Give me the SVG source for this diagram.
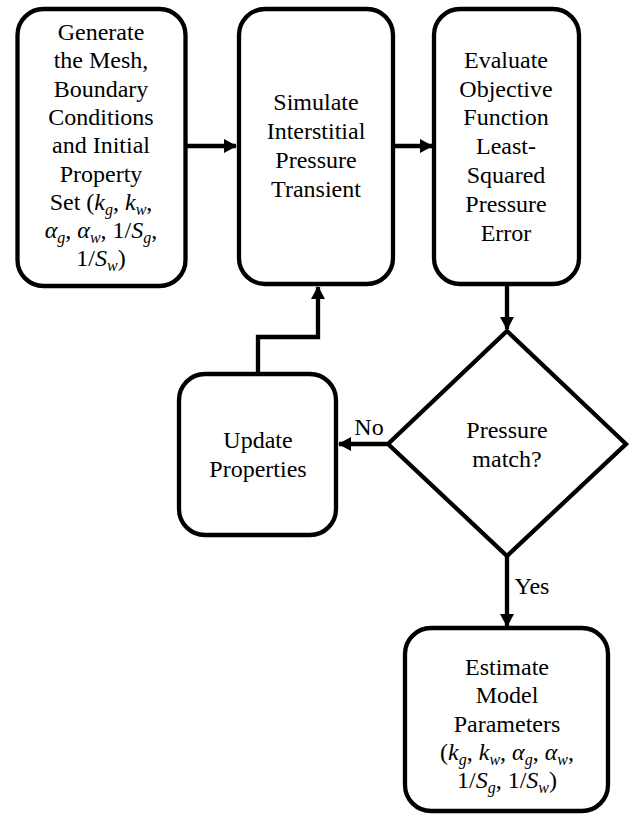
<svg xmlns="http://www.w3.org/2000/svg" width="629" height="816" viewBox="0 0 629 816">
<style>
.box{fill:#fff;stroke:#000;stroke-width:4.3}
.t{font-size:24px;fill:#000;text-anchor:middle}
.i{font-style:italic}
.s{font-style:italic;font-size:16px}
.c{fill:none;stroke:#000;stroke-width:4.3}
</style>
<defs>
<marker id="ah" markerUnits="userSpaceOnUse" markerWidth="14" markerHeight="14" refX="12" refY="7" orient="auto">
<path d="M0,0 L13,7 L0,14 z" fill="#000"/>
</marker>
</defs>
<rect width="629" height="816" fill="#fff"/>
<g font-family="Liberation Serif, DejaVu Serif, serif">
<g id="connectors">
<line class="c" x1="187" y1="146" x2="236" y2="146" marker-end="url(#ah)"/>
<line class="c" x1="395" y1="146" x2="432" y2="146" marker-end="url(#ah)"/>
<line class="c" x1="507" y1="286" x2="507" y2="329" marker-end="url(#ah)"/>
<polyline class="c" points="258,372 258,337 318,337 318,287" marker-end="url(#ah)"/>
<line class="c" x1="387" y1="444" x2="339" y2="444" marker-end="url(#ah)"/>
<line class="c" x1="507" y1="556" x2="507" y2="626" marker-end="url(#ah)"/>
<text class="t" x="369" y="435">No</text>
<text class="t" x="532" y="594">Yes</text>
</g>
<g id="generate">
<rect class="box" x="17.5" y="9" width="168" height="277" rx="26"/>
<text class="t" x="101" y="40">Generate</text>
<text class="t" x="101" y="68">the Mesh,</text>
<text class="t" x="101" y="97">Boundary</text>
<text class="t" x="101" y="125">Conditions</text>
<text class="t" x="101" y="153">and Initial</text>
<text class="t" x="101" y="182">Property</text>
<text class="t" x="101" y="210">Set (<tspan class="i">k</tspan><tspan class="s" dy="5">g</tspan><tspan dy="-5">, </tspan><tspan class="i">k</tspan><tspan class="s" dy="5">w</tspan><tspan dy="-5">,</tspan></text>
<text class="t" x="101" y="238"><tspan class="i">α</tspan><tspan class="s" dy="5">g</tspan><tspan dy="-5">, </tspan><tspan class="i">α</tspan><tspan class="s" dy="5">w</tspan><tspan dy="-5">, 1/</tspan><tspan class="i">S</tspan><tspan class="s" dy="5">g</tspan><tspan dy="-5">,</tspan></text>
<text class="t" x="101" y="266">1/<tspan class="i">S</tspan><tspan class="s" dy="5">w</tspan><tspan dy="-5">)</tspan></text>
</g>
<g id="simulate">
<rect class="box" x="239" y="9" width="154" height="275" rx="26"/>
<text class="t" x="316" y="110">Simulate</text>
<text class="t" x="316" y="139">Interstitial</text>
<text class="t" x="316" y="168">Pressure</text>
<text class="t" x="316" y="197">Transient</text>
</g>
<g id="evaluate">
<rect class="box" x="434" y="9" width="145" height="275" rx="26"/>
<text class="t" x="506" y="68">Evaluate</text>
<text class="t" x="506" y="97">Objective</text>
<text class="t" x="506" y="125">Function</text>
<text class="t" x="506" y="154">Least-</text>
<text class="t" x="506" y="183">Squared</text>
<text class="t" x="506" y="212">Pressure</text>
<text class="t" x="506" y="241">Error</text>
</g>
<g id="update">
<rect class="box" x="179" y="374" width="157" height="161" rx="26"/>
<text class="t" x="258" y="448">Update</text>
<text class="t" x="258" y="477">Properties</text>
</g>
<g id="decision">
<polygon class="box" points="507,331 626,444 507,556 388,444"/>
<text class="t" x="507" y="438">Pressure</text>
<text class="t" x="507" y="467">match?</text>
</g>
<g id="estimate">
<rect class="box" x="405" y="628" width="203" height="183" rx="26"/>
<text class="t" x="507" y="675">Estimate</text>
<text class="t" x="507" y="703">Model</text>
<text class="t" x="507" y="732">Parameters</text>
<text class="t" x="507" y="760">(<tspan class="i">k</tspan><tspan class="s" dy="5">g</tspan><tspan dy="-5">, </tspan><tspan class="i">k</tspan><tspan class="s" dy="5">w</tspan><tspan dy="-5">, </tspan><tspan class="i">α</tspan><tspan class="s" dy="5">g</tspan><tspan dy="-5">, </tspan><tspan class="i">α</tspan><tspan class="s" dy="5">w</tspan><tspan dy="-5">,</tspan></text>
<text class="t" x="507" y="788">1/<tspan class="i">S</tspan><tspan class="s" dy="5">g</tspan><tspan dy="-5">, 1/</tspan><tspan class="i">S</tspan><tspan class="s" dy="5">w</tspan><tspan dy="-5">)</tspan></text>
</g>
</g>
</svg>
